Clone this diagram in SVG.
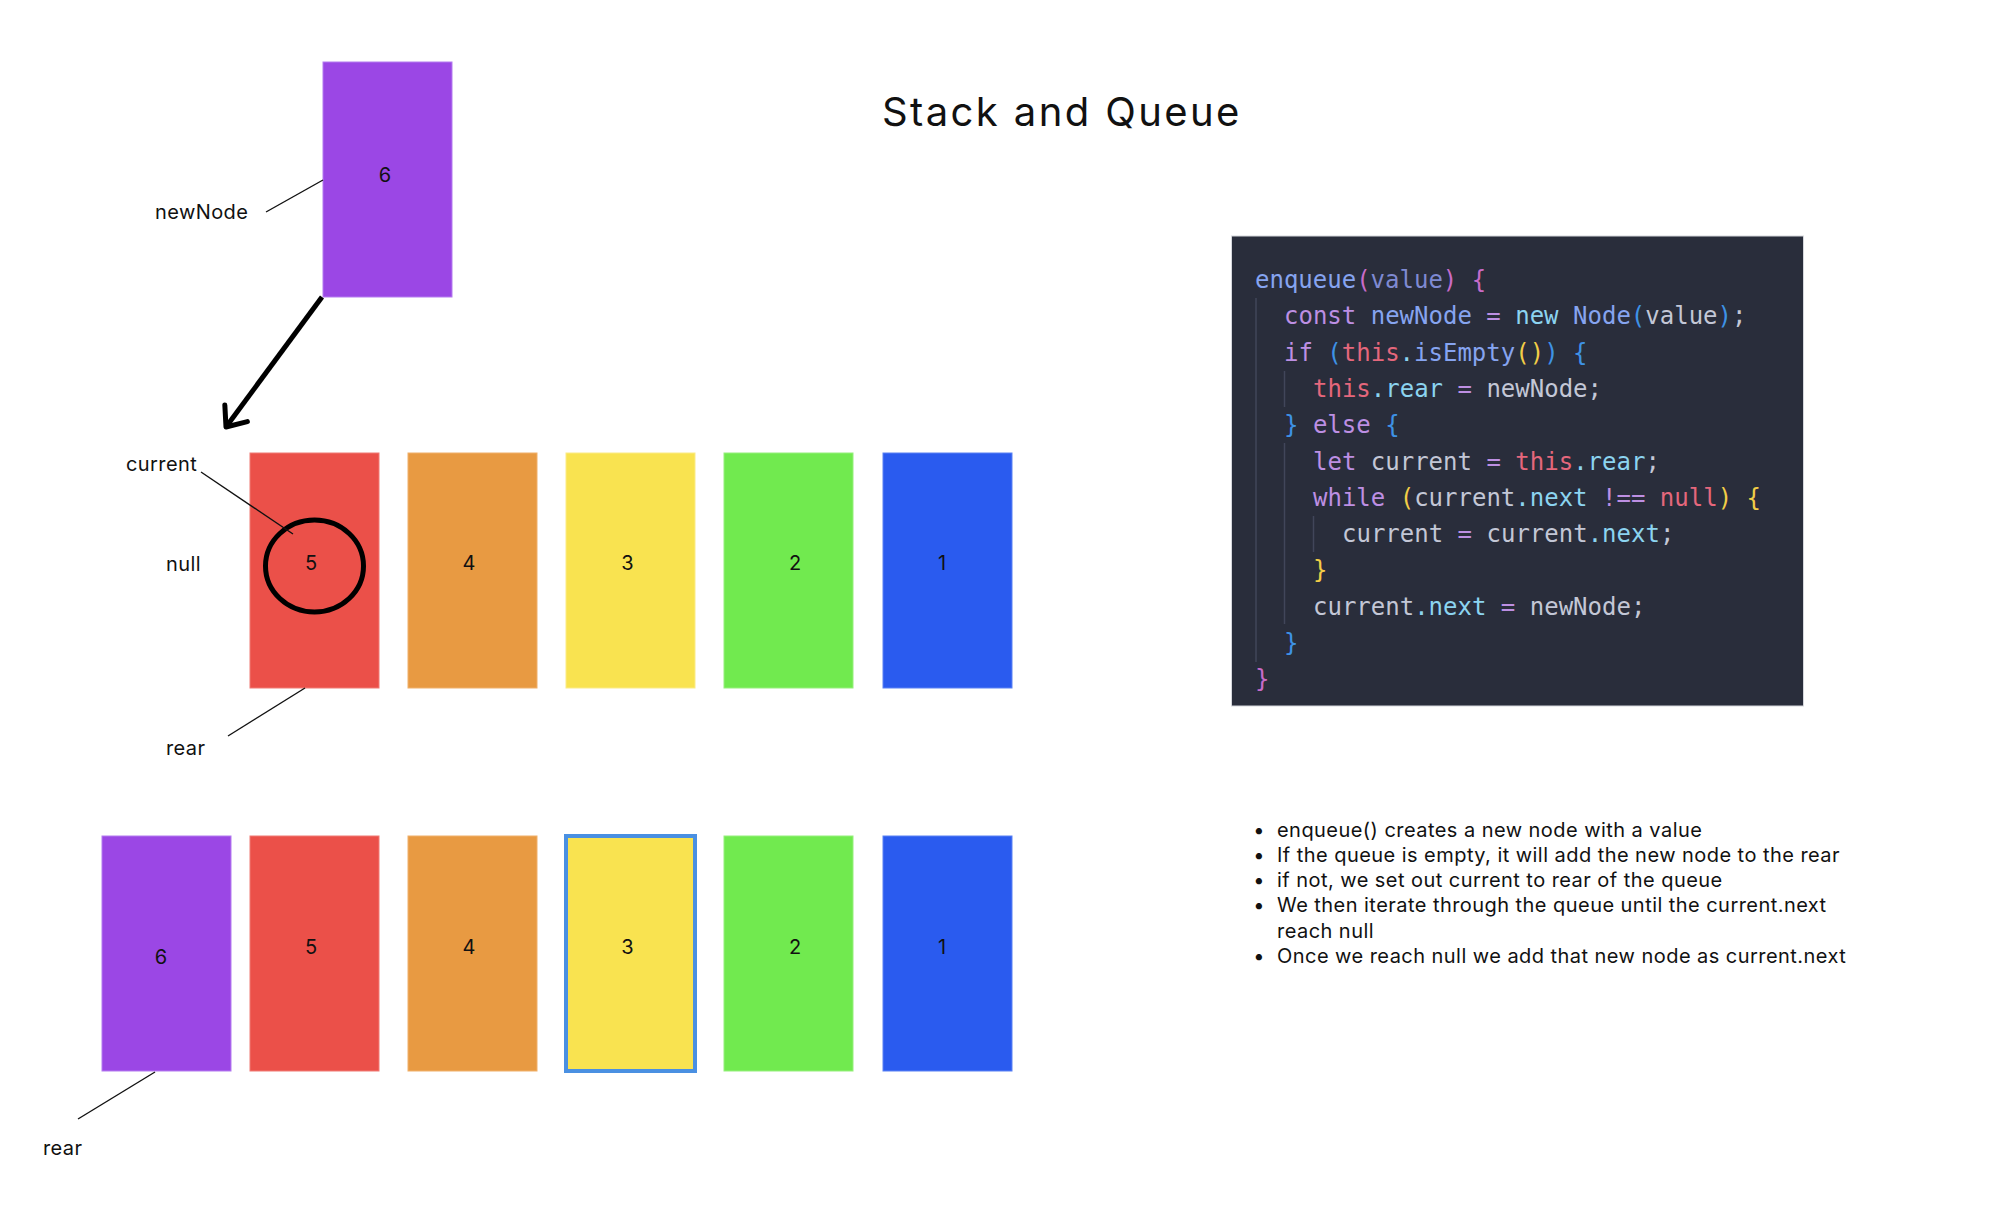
<svg xmlns="http://www.w3.org/2000/svg" width="1992" height="1210" viewBox="0 0 1992 1210">
<style>
.lbl{font-family:Inter,"Liberation Sans",sans-serif;font-size:20px;fill:#111;letter-spacing:0.4px}
.num{font-family:Inter,"Liberation Sans",sans-serif;font-size:20px;fill:#111;text-anchor:middle}
.title{font-family:Inter,"Liberation Sans",sans-serif;font-size:40px;fill:#111;letter-spacing:2.4px}
.bul{font-family:Inter,"Liberation Sans",sans-serif;font-size:20px;fill:#111;letter-spacing:0.45px}
.box{stroke-width:1}
.purple{fill:#9b47e5;stroke:#b47cf0}
.red{fill:#eb5049;stroke:#f07a74}
.orange{fill:#e89a42;stroke:#f0b06a}
.yellow{fill:#f9e350;stroke:#fbeb86}
.green{fill:#71ea4f;stroke:#96f07c}
.blue{fill:#2a5bef;stroke:#5a82f4}
.sel{stroke:#4a90e2;stroke-width:4}
.thin{stroke:#111;stroke-width:1.4;fill:none}
.code{font-family:"DejaVu Sans Mono","Liberation Mono",monospace;font-size:24px;fill:#c3c7d6;white-space:pre}
.fn{fill:#86a4f0}.pm{fill:#7f8ad2}.kw{fill:#bd8fe3}.cy{fill:#8cd4f0}.rd{fill:#e5677c}.fg{fill:#c3c7d6}
.b2{fill:#c86bc9}.b3{fill:#3e92e6}.gd{fill:#f2cd47}
.guide{stroke:#41465a;stroke-width:1.5}
</style>
<defs>
<marker id="chev" markerUnits="userSpaceOnUse" markerWidth="40" markerHeight="40" viewBox="-30 -20 40 40" refX="0" refY="0" orient="auto">
<path d="M -17 -14 L 0 0 L -17 14" fill="none" stroke="#000" stroke-width="5" stroke-linecap="round" stroke-linejoin="round"/>
</marker>
</defs>
<rect width="1992" height="1210" fill="#fff"/>
<text class="title" x="882" y="126">Stack and Queue</text>

<g id="newNode">
<rect class="box purple" x="323" y="62" width="129" height="235"/>
<text class="num" x="385" y="181.5">6</text>
</g>
<text class="lbl" x="155" y="219">newNode</text>

<g id="row1">
<g id="r1-5"><rect class="box red" x="250" y="453" width="129" height="235"/><text class="num" x="311" y="570">5</text></g>
<g id="r1-4"><rect class="box orange" x="408" y="453" width="129" height="235"/><text class="num" x="469" y="570">4</text></g>
<g id="r1-3"><rect class="box yellow" x="566" y="453" width="129" height="235"/><text class="num" x="627.5" y="570">3</text></g>
<g id="r1-2"><rect class="box green" x="724" y="453" width="129" height="235"/><text class="num" x="795" y="570">2</text></g>
<g id="r1-1"><rect class="box blue" x="883" y="453" width="129" height="235"/><text class="num" x="942" y="570">1</text></g>
</g>
<ellipse cx="314.5" cy="566" rx="49" ry="46" fill="none" stroke="#000" stroke-width="5"/>
<text class="lbl" x="126" y="471">current</text>
<text class="lbl" x="166" y="571">null</text>
<text class="lbl" x="166" y="755">rear</text>

<g id="row2">
<g id="r2-6"><rect class="box purple" x="102" y="836" width="129" height="235"/><text class="num" x="161" y="964">6</text></g>
<g id="r2-5"><rect class="box red" x="250" y="836" width="129" height="235"/><text class="num" x="311" y="954">5</text></g>
<g id="r2-4"><rect class="box orange" x="408" y="836" width="129" height="235"/><text class="num" x="469" y="954">4</text></g>
<g id="r2-3"><rect class="yellow sel" x="566" y="836" width="129" height="235"/><text class="num" x="627.5" y="954">3</text></g>
<g id="r2-2"><rect class="box green" x="724" y="836" width="129" height="235"/><text class="num" x="795" y="954">2</text></g>
<g id="r2-1"><rect class="box blue" x="883" y="836" width="129" height="235"/><text class="num" x="942" y="954">1</text></g>
</g>
<text class="lbl" x="43" y="1155">rear</text>

<g id="connectors">
<line x1="322" y1="297" x2="226" y2="427" stroke="#000" stroke-width="5" marker-end="url(#chev)"/>
<line class="thin" x1="266" y1="212" x2="323" y2="180"/>
<line class="thin" x1="201" y1="472" x2="293" y2="534"/>
<line class="thin" x1="228" y1="736" x2="305" y2="688"/>
<line class="thin" x1="78" y1="1119" x2="155" y2="1072"/>
</g>

<g id="code">
<rect x="1231.5" y="236" width="572" height="470" fill="#292d3b" stroke="#d5d7dc" stroke-width="1"/>
<line class="guide" x1="1256" y1="298" x2="1256" y2="662"/>
<line class="guide" x1="1284.5" y1="371" x2="1284.5" y2="407"/>
<line class="guide" x1="1284.5" y1="443" x2="1284.5" y2="624"/>
<line class="guide" x1="1313.5" y1="516" x2="1313.5" y2="552"/>
<text class="code" x="1255" y="288"><tspan class="fn">enqueue</tspan><tspan class="b2">(</tspan><tspan class="pm">value</tspan><tspan class="b2">)</tspan> <tspan class="b2">{</tspan></text>
<text class="code" x="1284" y="324.3"><tspan class="kw">const</tspan> <tspan class="fn">newNode</tspan> <tspan class="kw">=</tspan> <tspan class="cy">new</tspan> <tspan class="fn">Node</tspan><tspan class="b3">(</tspan><tspan class="fg">value</tspan><tspan class="b3">)</tspan><tspan class="fg">;</tspan></text>
<text class="code" x="1284" y="360.6"><tspan class="kw">if</tspan> <tspan class="b3">(</tspan><tspan class="rd">this</tspan><tspan class="cy">.</tspan><tspan class="fn">isEmpty</tspan><tspan class="gd">()</tspan><tspan class="b3">)</tspan> <tspan class="b3">{</tspan></text>
<text class="code" x="1313" y="396.9"><tspan class="rd">this</tspan><tspan class="cy">.rear</tspan> <tspan class="kw">=</tspan> <tspan class="fg">newNode;</tspan></text>
<text class="code" x="1284" y="433.2"><tspan class="b3">}</tspan> <tspan class="kw">else</tspan> <tspan class="b3">{</tspan></text>
<text class="code" x="1313" y="469.5"><tspan class="kw">let</tspan> <tspan class="fg">current</tspan> <tspan class="kw">=</tspan> <tspan class="rd">this</tspan><tspan class="cy">.rear</tspan><tspan class="fg">;</tspan></text>
<text class="code" x="1313" y="505.8"><tspan class="kw">while</tspan> <tspan class="gd">(</tspan><tspan class="fg">current</tspan><tspan class="cy">.next</tspan> <tspan class="kw">!==</tspan> <tspan class="rd">null</tspan><tspan class="gd">)</tspan> <tspan class="gd">{</tspan></text>
<text class="code" x="1342" y="542.1"><tspan class="fg">current</tspan> <tspan class="kw">=</tspan> <tspan class="fg">current</tspan><tspan class="cy">.next</tspan><tspan class="fg">;</tspan></text>
<text class="code" x="1313" y="578.4"><tspan class="gd">}</tspan></text>
<text class="code" x="1313" y="614.7"><tspan class="fg">current</tspan><tspan class="cy">.next</tspan> <tspan class="kw">=</tspan> <tspan class="fg">newNode;</tspan></text>
<text class="code" x="1284" y="651"><tspan class="b3">}</tspan></text>
<text class="code" x="1255" y="687.3"><tspan class="b2">}</tspan></text>
</g>

<g id="notes">
<text class="bul" x="1259" y="836.7" text-anchor="middle">•</text>
<text class="bul" x="1277" y="836.7">enqueue() creates a new node with a value</text>
<text class="bul" x="1259" y="862" text-anchor="middle">•</text>
<text class="bul" x="1277" y="862">If the queue is empty, it will add the new node to the rear</text>
<text class="bul" x="1259" y="886.7" text-anchor="middle">•</text>
<text class="bul" x="1277" y="886.7">if not, we set out current to rear of the queue</text>
<text class="bul" x="1259" y="912.3" text-anchor="middle">•</text>
<text class="bul" x="1277" y="912.3">We then iterate through the queue until the current.next</text>
<text class="bul" x="1277" y="937.7">reach null</text>
<text class="bul" x="1259" y="963.3" text-anchor="middle">•</text>
<text class="bul" x="1277" y="963.3">Once we reach null we add that new node as current.next</text>
</g>
</svg>
